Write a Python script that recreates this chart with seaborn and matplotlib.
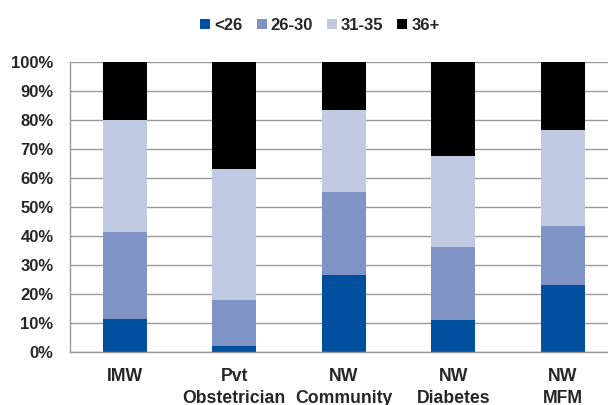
import matplotlib
matplotlib.use("Agg")
import matplotlib.pyplot as plt
from matplotlib.patches import Patch
import numpy as np
import seaborn as sns

categories = ["IMW", "Pvt\nObstetrician", "NW\nCommunity", "NW\nDiabetes", "NW\nMFM"]
groups = ["<26", "26-30", "31-35", "36+"]
under26 = [11.5, 2.1, 26.5, 11.1, 23.2]
age26_30 = [30.0, 15.8, 28.8, 25.0, 20.3]
age31_35 = [38.4, 45.1, 28.1, 31.4, 32.9]
age36plus = [20.1, 37.0, 16.6, 32.5, 23.6]
colors = ["#00509f", "#7f94c5", "#c0cae3", "#000000"]

sns.set_style("white")
plt.rcParams["font.family"] = ["Liberation Sans", "DejaVu Sans"]
plt.rcParams["font.weight"] = "bold"

fig = plt.figure(figsize=(6.08, 4.05), dpi=100)
ax = fig.add_axes([70/608, 1-352.3/405, 1-70/608, 290.6/405])

series = [under26, age26_30, age31_35, age36plus]
bottom = np.zeros(len(categories))
for vals, c in zip(series, colors):
    sns.barplot(x=categories, y=vals, bottom=bottom, color=c, width=0.4,
                saturation=1, ax=ax, linewidth=0)
    bottom = bottom + np.array(vals)

ax.set_xlim(-0.5, 4.414)
ax.set_ylim(0, 100)
ax.set_yticks(np.arange(0, 101, 10))
ax.set_yticklabels([f"{v}%" for v in range(0, 101, 10)], fontsize=12, fontweight="bold")
ax.set_xticks(range(5))
ax.set_xticklabels(categories, fontsize=12.7, fontweight="bold", linespacing=1.38)
ax.tick_params(axis="x", length=0, pad=11.5)
ax.set_xticks(np.arange(-0.5, 4.5, 1), minor=True)
ax.tick_params(axis="x", which="minor", length=4.3, color="#999999", width=1)
ax.tick_params(axis="y", length=4, color="#999999", width=1, pad=7.9)
ax.yaxis.grid(True, color="#999999", linewidth=1)
ax.set_axisbelow(True)
for s in ["top", "right"]:
    ax.spines[s].set_visible(False)
for s in ["left", "bottom"]:
    ax.spines[s].set_color("#999999")
    ax.spines[s].set_linewidth(1)

handles = [Patch(facecolor=c, edgecolor="none") for c in colors]
fig.legend(handles, groups, loc="center", bbox_to_anchor=(320/608, 1-25.5/405), ncol=4,
           frameon=False, prop={"size": 12, "weight": "bold"},
           handlelength=0.6, handleheight=0.6, handletextpad=0.24, columnspacing=0.84)

fig.savefig("out.png", dpi=100)
